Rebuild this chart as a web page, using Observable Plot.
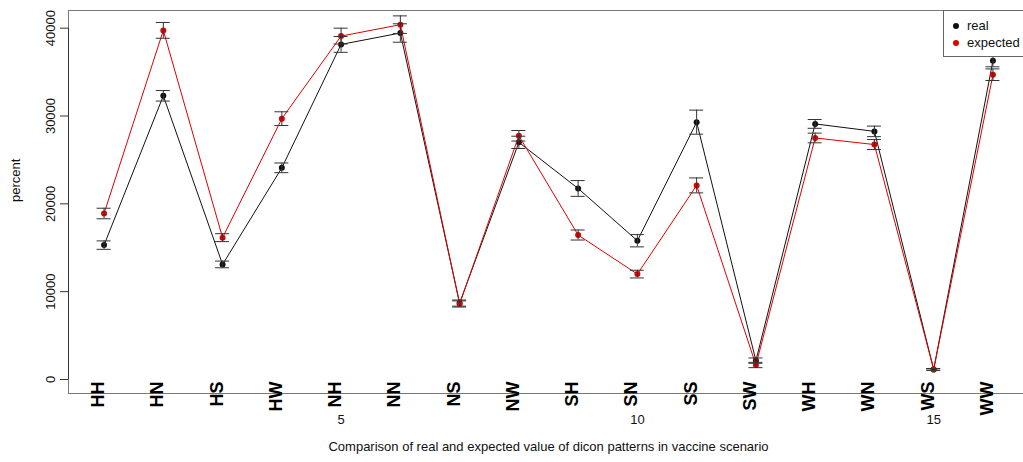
<!DOCTYPE html>
<html>
<head>
<meta charset="utf-8">
<script src="https://cdn.jsdelivr.net/npm/d3@7"></script>
<script src="https://cdn.jsdelivr.net/npm/@observablehq/plot@0.6"></script>
<style>
  html, body { margin: 0; padding: 0; background: white; overflow: hidden; }
  #wrap { position: relative; width: 1023px; height: 462px; overflow: hidden; font-family: "Liberation Sans", Arial, sans-serif; }
  #legend { position: absolute; left: 943px; top: 10px; width: 90px; height: 47px; border: 1px solid #666; background: white; box-sizing: border-box; }
  #legend .item { position: absolute; left: 0; height: 16px; font-size: 13px; line-height: 16px; color: #111; }
  #legend .dot { position: absolute; left: 9px; top: 5px; width: 6px; height: 6px; border-radius: 50%; }
  #legend .lab { position: absolute; left: 23px; top: 0; white-space: nowrap; }
</style>
</head>
<body>
<div id="wrap"></div>
<script>
// Dicon patterns (x axis categories)
const categories = ["HH", "HN", "HS", "HW", "NH", "NN", "NS", "NW", "SH", "SN", "SS", "SW", "WH", "WN", "WS", "WW"];

// Observed counts and their error half-widths
const real    = [15300, 32300, 13100, 24100, 38150, 39450, 8700, 27000, 21750, 15800, 29300, 2150, 29100, 28250, 1150, 36300];
const realErr = [480, 600, 380, 550, 900, 1050, 350, 700, 900, 700, 1370, 300, 500, 600, 100, 700];

// Expected counts and their error half-widths
const expected    = [18900, 39750, 16150, 29700, 39100, 40400, 8600, 27750, 16450, 12000, 22100, 1650, 27500, 26750, 1150, 34700];
const expectedErr = [600, 900, 450, 780, 900, 1000, 350, 600, 570, 440, 850, 300, 550, 570, 100, 660];

const seriesNames  = ["real", "expected"];
const seriesColors = ["#111111", "#e00000"];

const yTicks = [0, 10000, 20000, 30000, 40000];
const xTicks = [5, 10, 15];

const title  = "Comparison of real and expected value of dicon patterns in vaccine scenario";
const yLabel = "percent";

const rows = (vals, errs, s) => vals.map((v, i) => ({
  idx: i + 1, cat: categories[i], value: v, lo: v - errs[i], hi: v + errs[i], series: s
}));
const realRows = rows(real, realErr, seriesNames[0]);
const expRows  = rows(expected, expectedErr, seriesNames[1]);
const allRows  = realRows.concat(expRows);

const font = "Liberation Sans, Arial, sans-serif";

const chart = Plot.plot({
  width: 1023,
  height: 462,
  marginLeft: 68,
  marginRight: -5,
  marginTop: 10,
  marginBottom: 69,
  style: { fontFamily: font, fontSize: "13px", background: "white", color: "#111" },
  x: { type: "linear", domain: [0.4, 16.6], label: null },
  y: { domain: [-1594, 42013], label: null },
  marks: [
    Plot.frame({ stroke: "#777" }),
    Plot.ruleX([0.4], { y1: yTicks[0], y2: yTicks[yTicks.length - 1], stroke: "#333" }),
    Plot.axisY({ ticks: yTicks, tickFormat: "d", tickRotate: -90, tickSize: 8, tickPadding: 6, fontSize: 13, stroke: "#333", label: null }),
    Plot.axisX({ ticks: xTicks, tickSize: 0, tickPadding: 21, fontSize: 13, label: null }),
    // category names, rotated, hanging over the bottom of the frame
    Plot.text(categories, {
      x: (d, i) => i + 1, text: d => d, frameAnchor: "bottom", dy: -12,
      rotate: -90, textAnchor: "end", fontSize: 18, fontWeight: "bold", fill: "#000"
    }),
    // observed series
    Plot.line(realRows, { x: "idx", y: "value", stroke: seriesColors[0], strokeWidth: 1 }),
    Plot.dot(realRows, { x: "idx", y: "value", r: 3, fill: seriesColors[0], stroke: null }),
    // expected series
    Plot.line(expRows, { x: "idx", y: "value", stroke: seriesColors[1], strokeWidth: 1 }),
    Plot.dot(expRows, { x: "idx", y: "value", r: 3, fill: seriesColors[1], stroke: null }),
    // error bars with caps
    Plot.ruleX(allRows, { x: "idx", y1: "lo", y2: "hi", stroke: "#333", strokeWidth: 1 }),
    Plot.ruleY(allRows, { y: "lo", x1: "idx", x2: "idx", insetLeft: -7, insetRight: -7, stroke: "#333", strokeWidth: 1 }),
    Plot.ruleY(allRows, { y: "hi", x1: "idx", x2: "idx", insetLeft: -7, insetRight: -7, stroke: "#333", strokeWidth: 1 }),
    // axis titles
    Plot.text([yLabel], { text: d => d, frameAnchor: "left", dx: -53, rotate: -90, fontSize: 13, fill: "#111" }),
    Plot.text([title], { text: d => d, frameAnchor: "bottom", dy: 57, fontSize: 13, fill: "#111" })
  ]
});

const wrap = document.getElementById("wrap");
wrap.appendChild(chart);

// legend box in the top-right corner
const legend = document.createElement("div");
legend.id = "legend";
seriesNames.forEach((name, i) => {
  const item = document.createElement("div");
  item.className = "item";
  item.style.top = (7 + i * 16.5) + "px";
  item.style.width = "100%";
  const dot = document.createElement("span");
  dot.className = "dot";
  dot.style.background = seriesColors[i];
  const lab = document.createElement("span");
  lab.className = "lab";
  lab.textContent = name;
  item.appendChild(dot);
  item.appendChild(lab);
  legend.appendChild(item);
});
wrap.appendChild(legend);
</script>
</body>
</html>
